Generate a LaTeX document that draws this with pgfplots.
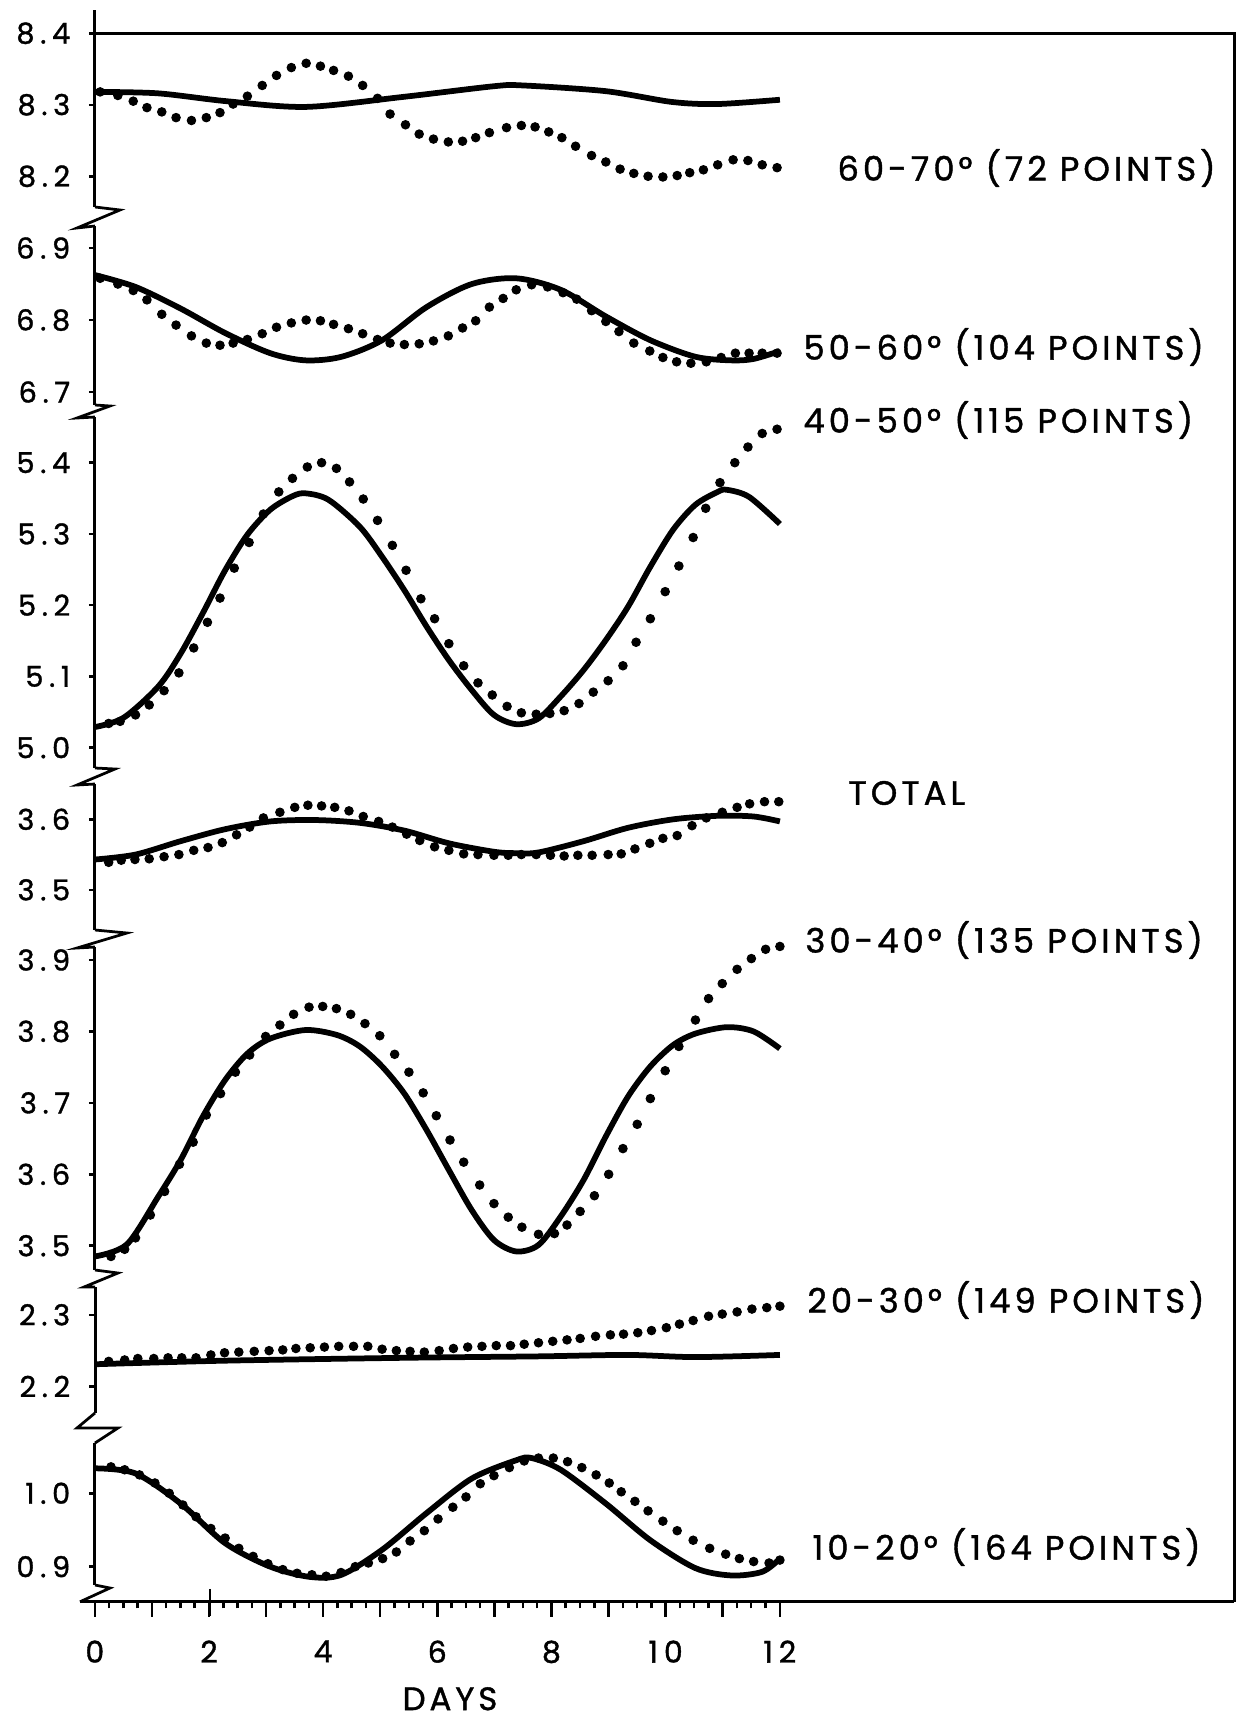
\documentclass[border=0pt]{standalone}
\usepackage{fontspec}
\setmainfont{Poppins}
\newfontfamily\labfont{Poppins}[LetterSpace=12,FakeBold=1.2]
\newfontfamily\tickfont{Poppins}[LetterSpace=20,FakeBold=1.2]
\usepackage{pgfplots}
\pgfplotsset{compat=1.18}
\pgfplotsset{
  panel/.style={
    x=22.83pt, xmin=0, xmax=12,
    anchor=south west,
    axis x line=none, axis y line*=left,
    xtick=\empty,
    enlargelimits=false, clip=false,
    tick align=outside,
    major tick length=2.4pt,
    axis line style={line width=1.2pt,-},
    every tick/.style={black, line width=1pt},
    yticklabel style={font=\tickfont\fontsize{11.5}{12}\selectfont, xshift=-4pt},
  },
  sol/.style={black, line width=2.3pt, smooth, no marks},
  dot/.style={black, only marks, mark=*, mark size=1.7pt},
}
\begin{document}
\begin{tikzpicture}
\useasboundingbox (0,0) rectangle (496.4pt,-690.8pt);

% ---------- Panel 1: 60-70
\begin{axis}[panel, at={(38pt,-82.8pt)}, y=286pt, ymin=8.157, ymax=8.432,
  ytick={8.2,8.3,8.4}, yticklabels={8.2,8.3,8.4}]
\addplot[sol] coordinates {(0,8.318)(1.1,8.316)(2.3,8.305)(3.7,8.297)(5.4,8.311)(7.0,8.326)(7.5,8.327)(8.95,8.319)(10.1,8.304)(10.9,8.301)(12,8.307)};
\addplot[dot] coordinates {(0.09,8.318)(0.40,8.313)(0.67,8.305)(0.91,8.296)(1.17,8.290)(1.42,8.282)(1.69,8.278)(1.95,8.282)(2.19,8.289)(2.42,8.301)(2.67,8.312)(2.93,8.327)(3.18,8.341)(3.44,8.352)(3.70,8.358)(3.95,8.354)(4.18,8.348)(4.44,8.340)(4.69,8.327)(4.95,8.309)(5.17,8.287)(5.44,8.272)(5.68,8.259)(5.93,8.252)(6.19,8.248)(6.44,8.249)(6.67,8.254)(6.91,8.261)(7.21,8.268)(7.47,8.271)(7.71,8.269)(7.95,8.262)(8.18,8.254)(8.42,8.242)(8.70,8.229)(8.95,8.220)(9.20,8.210)(9.44,8.204)(9.69,8.200)(9.95,8.199)(10.20,8.201)(10.42,8.205)(10.66,8.209)(10.91,8.216)(11.18,8.223)(11.44,8.222)(11.69,8.216)(11.95,8.212)};
\end{axis}

% ---------- Panel 2: 50-60
\begin{axis}[panel, at={(38pt,-162pt)}, y=288pt, ymin=6.682, ymax=6.9306,
  ytick={6.7,6.8,6.9}, yticklabels={6.7,6.8,6.9}]
\addplot[sol] coordinates {(0,6.8625)(0.71,6.846)(1.5,6.816)(2.28,6.782)(3.07,6.754)(3.69,6.744)(4.32,6.749)(5.03,6.772)(5.81,6.818)(6.6,6.850)(7.38,6.858)(8.16,6.842)(8.95,6.805)(9.73,6.772)(10.52,6.749)(11.15,6.744)(11.54,6.746)(12,6.757)};
\addplot[dot] coordinates {(0.09,6.858)(0.40,6.850)(0.67,6.841)(0.91,6.828)(1.17,6.808)(1.42,6.793)(1.69,6.778)(1.95,6.768)(2.19,6.765)(2.42,6.768)(2.67,6.773)(2.93,6.781)(3.18,6.790)(3.44,6.796)(3.70,6.800)(3.95,6.799)(4.18,6.794)(4.44,6.788)(4.69,6.781)(4.95,6.773)(5.17,6.768)(5.42,6.766)(5.68,6.767)(5.93,6.771)(6.19,6.778)(6.44,6.789)(6.67,6.799)(6.91,6.818)(7.15,6.830)(7.38,6.842)(7.65,6.849)(7.93,6.846)(8.20,6.838)(8.44,6.829)(8.70,6.813)(8.95,6.798)(9.18,6.784)(9.44,6.768)(9.72,6.757)(9.95,6.748)(10.19,6.742)(10.44,6.740)(10.71,6.742)(10.97,6.748)(11.22,6.754)(11.46,6.754)(11.69,6.754)(11.95,6.754)};
\end{axis}

% ---------- Panel 3: 40-50
\begin{axis}[panel, at={(38pt,-307.2pt)}, y=285pt, ymin=4.9715, ymax=5.464,
  ytick={5.0,5.1,5.2,5.3,5.4}, yticklabels={5.0,5.1,5.2,5.3,5.4}]
\addplot[sol] coordinates {(0,5.029)(0.5,5.042)(1.11,5.086)(1.5,5.132)(1.89,5.189)(2.28,5.249)(2.67,5.299)(3.07,5.334)(3.46,5.353)(3.69,5.357)(4.09,5.348)(4.64,5.310)(5.03,5.268)(5.42,5.221)(5.81,5.170)(6.2,5.123)(6.6,5.081)(6.99,5.046)(7.38,5.033)(7.77,5.041)(8.16,5.072)(8.56,5.109)(8.95,5.151)(9.34,5.198)(9.73,5.254)(10.13,5.306)(10.52,5.341)(10.91,5.359)(11.07,5.362)(11.46,5.352)(12,5.314)};
\addplot[dot] coordinates {(0.24,5.034)(0.44,5.037)(0.71,5.046)(0.95,5.060)(1.21,5.080)(1.47,5.105)(1.73,5.140)(1.97,5.176)(2.19,5.210)(2.44,5.252)(2.70,5.288)(2.95,5.328)(3.22,5.359)(3.46,5.378)(3.72,5.394)(3.97,5.400)(4.23,5.392)(4.46,5.373)(4.70,5.349)(4.95,5.319)(5.21,5.284)(5.45,5.249)(5.71,5.209)(5.95,5.181)(6.20,5.146)(6.46,5.115)(6.71,5.091)(6.96,5.074)(7.22,5.058)(7.47,5.049)(7.73,5.047)(7.97,5.048)(8.22,5.052)(8.48,5.062)(8.73,5.078)(8.99,5.094)(9.25,5.115)(9.48,5.148)(9.73,5.181)(9.99,5.219)(10.23,5.255)(10.48,5.295)(10.70,5.336)(10.95,5.372)(11.21,5.400)(11.44,5.422)(11.69,5.441)(11.95,5.447)};
\end{axis}

% ---------- Panel 4: TOTAL
\begin{axis}[panel, at={(38pt,-372pt)}, y=282pt, ymin=3.443, ymax=3.650,
  ytick={3.5,3.6}, yticklabels={3.5,3.6}]
\addplot[sol] coordinates {(0,3.543)(0.71,3.550)(1.5,3.569)(2.28,3.586)(3.07,3.597)(3.85,3.599)(4.64,3.595)(5.42,3.584)(6.2,3.566)(6.99,3.554)(7.38,3.552)(7.77,3.553)(8.56,3.569)(9.34,3.588)(10.13,3.600)(10.91,3.605)(11.54,3.604)(12,3.597)};
\addplot[dot] coordinates {(0.24,3.539)(0.46,3.542)(0.70,3.543)(0.95,3.544)(1.21,3.547)(1.47,3.550)(1.73,3.556)(1.98,3.560)(2.23,3.567)(2.48,3.578)(2.71,3.589)(2.95,3.602)(3.24,3.610)(3.50,3.617)(3.73,3.620)(3.97,3.619)(4.20,3.617)(4.45,3.612)(4.70,3.604)(4.97,3.597)(5.21,3.589)(5.46,3.579)(5.69,3.570)(5.95,3.561)(6.20,3.556)(6.46,3.551)(6.71,3.550)(6.99,3.549)(7.24,3.549)(7.47,3.550)(7.73,3.550)(7.98,3.549)(8.22,3.548)(8.46,3.549)(8.71,3.549)(8.99,3.550)(9.22,3.551)(9.46,3.558)(9.72,3.566)(9.95,3.573)(10.20,3.577)(10.46,3.591)(10.71,3.602)(10.99,3.610)(11.25,3.617)(11.47,3.622)(11.73,3.625)(11.98,3.625)};
\end{axis}

% ---------- Panel 5: 30-40
\begin{axis}[panel, at={(38pt,-508pt)}, y=285.7pt, ymin=3.466, ymax=3.918,
  ytick={3.5,3.6,3.7,3.8,3.9}, yticklabels={3.5,3.6,3.7,3.8,3.9}]
\addplot[sol] coordinates {(0,3.485)(0.56,3.502)(1.11,3.569)(1.5,3.620)(1.89,3.681)(2.28,3.732)(2.67,3.769)(3.07,3.790)(3.69,3.802)(4.24,3.795)(4.64,3.779)(5.03,3.751)(5.42,3.713)(5.81,3.662)(6.2,3.606)(6.6,3.550)(6.99,3.508)(7.38,3.492)(7.77,3.501)(8.16,3.541)(8.56,3.592)(8.95,3.653)(9.34,3.709)(9.73,3.751)(10.13,3.781)(10.52,3.797)(11.07,3.806)(11.54,3.800)(12,3.776)};
\addplot[dot] coordinates {(0.28,3.485)(0.52,3.495)(0.71,3.511)(0.97,3.543)(1.22,3.576)(1.48,3.614)(1.72,3.645)(1.95,3.683)(2.20,3.713)(2.46,3.743)(2.71,3.767)(2.99,3.793)(3.24,3.809)(3.48,3.824)(3.75,3.834)(3.99,3.835)(4.23,3.832)(4.48,3.824)(4.73,3.811)(4.99,3.794)(5.25,3.768)(5.50,3.743)(5.75,3.714)(5.98,3.682)(6.22,3.648)(6.46,3.617)(6.74,3.585)(6.99,3.559)(7.24,3.540)(7.48,3.526)(7.77,3.516)(8.05,3.517)(8.27,3.529)(8.50,3.548)(8.75,3.570)(9.00,3.600)(9.25,3.636)(9.50,3.670)(9.73,3.706)(9.99,3.745)(10.23,3.779)(10.52,3.816)(10.75,3.846)(10.99,3.867)(11.25,3.887)(11.50,3.902)(11.75,3.915)(12.0,3.919)};
\end{axis}

% ---------- Panel 6: 20-30
\begin{axis}[panel, at={(38pt,-565.2pt)}, y=286.8pt, ymin=2.163, ymax=2.339,
  ytick={2.2,2.3}, yticklabels={2.2,2.3}]
\addplot[sol] coordinates {(0,2.231)(2.28,2.236)(5.42,2.240)(7.77,2.242)(9.34,2.244)(10.52,2.241)(12,2.244)};
\addplot[dot] coordinates {(0.24,2.235)(0.52,2.237)(0.75,2.239)(1.03,2.239)(1.28,2.240)(1.52,2.240)(1.77,2.240)(2.03,2.244)(2.27,2.247)(2.52,2.248)(2.79,2.249)(3.05,2.250)(3.29,2.251)(3.52,2.253)(3.77,2.254)(4.02,2.255)(4.27,2.256)(4.53,2.256)(4.78,2.256)(5.03,2.252)(5.28,2.250)(5.52,2.249)(5.77,2.248)(6.03,2.250)(6.28,2.253)(6.53,2.255)(6.78,2.256)(7.03,2.257)(7.28,2.257)(7.52,2.259)(7.77,2.261)(8.02,2.263)(8.27,2.265)(8.50,2.267)(8.77,2.270)(9.03,2.272)(9.26,2.273)(9.51,2.275)(9.75,2.278)(10.01,2.282)(10.24,2.287)(10.48,2.292)(10.75,2.298)(10.99,2.301)(11.25,2.304)(11.51,2.308)(11.77,2.310)(12,2.312)};
\end{axis}

% ---------- Panel 7: 10-20
\begin{axis}[panel, at={(38pt,-634pt)}, y=293.6pt, ymin=0.875, ymax=1.0685,
  ytick={0.9,1.0}, yticklabels={0.9,1.0}]
\addplot[sol] coordinates {(0,1.034)(0.71,1.027)(1.5,0.986)(2.28,0.932)(3.07,0.900)(3.77,0.886)(4.32,0.889)(5.03,0.923)(5.81,0.973)(6.6,1.020)(7.38,1.045)(7.65,1.048)(8.16,1.032)(8.95,0.986)(9.73,0.936)(10.52,0.898)(11.15,0.888)(11.69,0.893)(12,0.911)};
\addplot[dot] coordinates {(0.28,1.036)(0.52,1.032)(0.78,1.025)(1.05,1.014)(1.30,1.000)(1.54,0.984)(1.77,0.968)(2.03,0.952)(2.28,0.939)(2.52,0.925)(2.77,0.914)(3.03,0.904)(3.29,0.896)(3.54,0.891)(3.80,0.889)(4.05,0.887)(4.31,0.892)(4.56,0.900)(4.79,0.905)(5.04,0.911)(5.28,0.920)(5.52,0.935)(5.77,0.949)(6.01,0.965)(6.27,0.981)(6.50,0.995)(6.75,1.013)(6.99,1.024)(7.26,1.035)(7.52,1.044)(7.77,1.048)(8.03,1.048)(8.28,1.043)(8.53,1.035)(8.78,1.025)(9.01,1.014)(9.22,1.002)(9.46,0.989)(9.69,0.976)(9.95,0.962)(10.20,0.949)(10.48,0.936)(10.77,0.925)(11.05,0.917)(11.29,0.911)(11.54,0.907)(11.81,0.905)(12,0.909)};
\end{axis}

% ---------- bottom day axis
\begin{axis}[at={(32pt,-640.7pt)}, anchor=south west,
  x=22.83pt, xmin=-0.26, xmax=19.96, y=1pt, ymin=0, ymax=1,
  axis x line*=bottom, axis y line=none, ytick=\empty,
  enlargelimits=false, clip=false,
  axis line style={line width=1.2pt,-},
  tick align=outside,
  xtick={0,1,...,12},
  xticklabels={0,{},2,{},4,{},6,{},8,{},10,{},12},
  minor xtick={0,0.25,...,12},
  major tick length=6pt, minor tick length=2.6pt,
  every tick/.style={black, line width=1pt},
  xticklabel style={font=\tickfont\fontsize{12}{13}\selectfont, yshift=-6pt},
]
\addplot[draw=none] coordinates {(0,0)};
\end{axis}

% frame and axis breaks
\draw[line width=1.2pt] (38pt,-13.2pt) -- (493.6pt,-13.2pt) -- (493.6pt,-640.7pt);
\draw[line width=1.1pt] (38pt,-82.8pt) -- (48pt,-84pt) -- (30.8pt,-91.2pt) -- (38pt,-90.4pt);
\draw[line width=1.1pt] (38pt,-162pt) -- (44pt,-162.4pt) -- (30.8pt,-167.2pt) -- (38pt,-166.8pt);
\draw[line width=1.1pt] (38pt,-307.2pt) -- (46pt,-307.6pt) -- (30.8pt,-314pt) -- (38pt,-313.6pt);
\draw[line width=1.1pt] (38pt,-372pt) -- (50.8pt,-373.2pt) -- (30.8pt,-379.2pt) -- (38pt,-378.8pt);
\draw[line width=1.1pt] (38pt,-508pt) -- (47.2pt,-509.2pt) -- (33.6pt,-514.8pt) -- (38pt,-514.8pt);
\draw[line width=1.1pt] (38pt,-565.2pt) -- (30.8pt,-571.2pt) -- (47.2pt,-571.2pt) -- (38pt,-577.2pt);
\draw[line width=1.1pt] (38pt,-634pt) -- (44pt,-635.2pt) -- (32pt,-640.7pt);
\draw[line width=1pt] (84pt,-635.5pt) -- (84pt,-646.5pt);

% curve labels
\begin{scope}[every node/.style={anchor=west, inner sep=0pt, font=\labfont\fontsize{13.5}{15}\selectfont}]
\node at (334.8pt,-67.2pt) {60-70° (72 POINTS)};
\node at (321.2pt,-138.8pt) {50-60° (104 POINTS)};
\node at (321.2pt,-168pt) {40-50° (115 POINTS)};
\node at (339.2pt,-317.2pt) {TOTAL};
\node at (322pt,-376pt) {30-40° (135 POINTS)};
\node at (322.8pt,-520pt) {20-30° (149 POINTS)};
\node at (324.8pt,-618.8pt) {10-20° (164 POINTS)};
\end{scope}
\node[inner sep=0pt, font=\labfont\fontsize{13}{14}\selectfont] at (180pt,-679.5pt) {DAYS};
\end{tikzpicture}
\end{document}
